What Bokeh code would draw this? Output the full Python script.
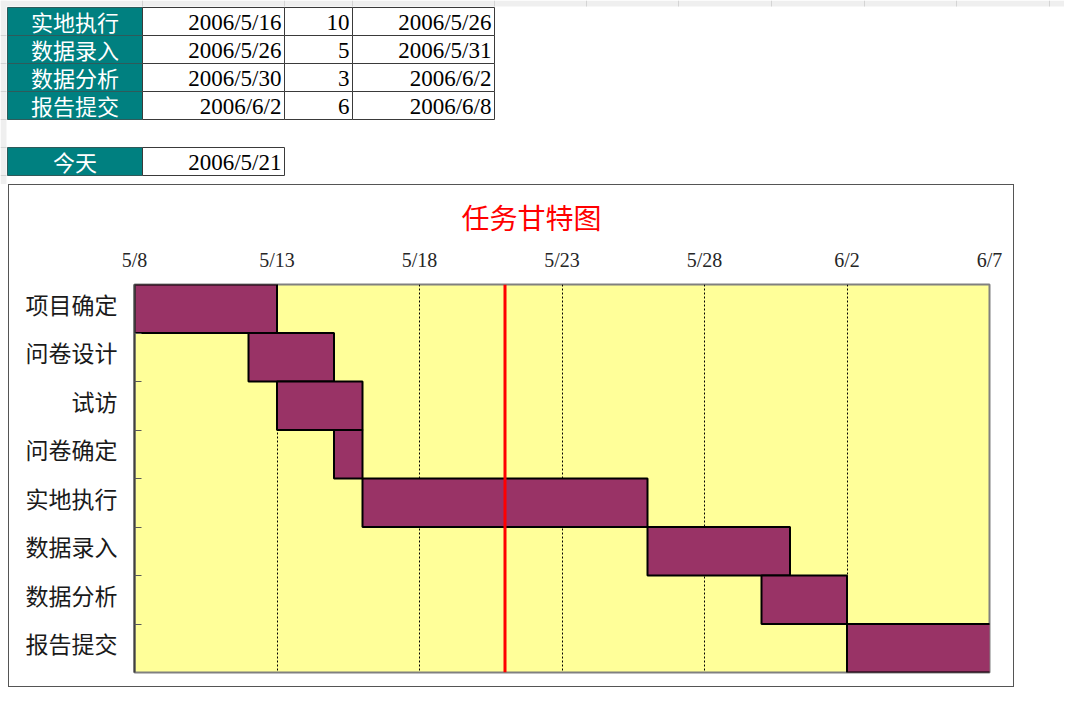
import pandas as pd
from bokeh.plotting import figure
from bokeh.models import Range1d, FixedTicker, Span
from bokeh.embed import file_html
from bokeh.resources import INLINE
from bokeh.core.properties import value

# ---------------- data ----------------
tasks = ["项目确定", "问卷设计", "试访", "问卷确定", "实地执行", "数据录入", "数据分析", "报告提交"]
starts = ["2006-05-08", "2006-05-12", "2006-05-13", "2006-05-15",
          "2006-05-16", "2006-05-26", "2006-05-30", "2006-06-02"]
durations = [5, 3, 3, 1, 10, 5, 3, 6]
today = "2006-05-21"
today_label = "今天"
axis_start = "2006-05-08"
axis_end = "2006-06-07"
tick_step_days = 5
visible_table_rows = [4, 5, 6, 7]
chart_title = "任务甘特图"

# ---------------- derived ----------------
start_ts = [pd.Timestamp(s) for s in starts]
end_ts = [s + pd.Timedelta(days=d) for s, d in zip(start_ts, durations)]
t0 = pd.Timestamp(axis_start)
t1 = pd.Timestamp(axis_end)
span_days = (t1 - t0).days
left = [(s - t0).days for s in start_ts]
right = [(e - t0).days for e in end_ts]
today_off = (pd.Timestamp(today) - t0).days


def fmt_full(ts):
    return f"{ts.year}/{ts.month}/{ts.day}"


def fmt_md(ts):
    return f"{ts.month}/{ts.day}"


CJK = "Noto Sans CJK SC"
SERIF = "Liberation Serif"

# ---------------- spreadsheet table ----------------
T = figure(width=1064, height=184, x_range=Range1d(0, 1064), y_range=Range1d(184, 0),
           toolbar_location=None, output_backend="svg", min_border=0)
T.axis.visible = False
T.grid.visible = False
T.outline_line_color = None
T.background_fill_color = "white"
T.border_fill_color = "white"

# sheet header strips (column header on top, row header on left)
T.quad(left=[0, 0], right=[1064, 6], top=[0, 0], bottom=[6, 184],
       fill_color="#efefef", line_color=None)
hdr_cols = [142, 284, 352, 494, 586, 678, 771, 864, 956, 1049]
T.segment(x0=hdr_cols, y0=[0] * len(hdr_cols), x1=hdr_cols, y1=[6] * len(hdr_cols),
          line_color="#d4d4d4", line_width=1)
hdr_rows = [35, 63, 91, 119, 147, 175]
T.segment(x0=[0] * len(hdr_rows), y0=hdr_rows, x1=[6] * len(hdr_rows), y1=hdr_rows,
          line_color="#d4d4d4", line_width=1)

col_x = [7, 142, 284, 352, 494]
row_h = 28
row_y0 = 7
today_y0 = 147

ys = [row_y0 + k * row_h for k in range(len(visible_table_rows))]
names = [tasks[i] for i in visible_table_rows]
c_start = [fmt_full(start_ts[i]) for i in visible_table_rows]
c_dur = [str(durations[i]) for i in visible_table_rows]
c_end = [fmt_full(end_ts[i]) for i in visible_table_rows]

# label cells
T.quad(left=[col_x[0]] * (len(ys) + 1), right=[col_x[1]] * (len(ys) + 1),
       top=ys + [today_y0], bottom=[y + row_h for y in ys] + [today_y0 + row_h],
       fill_color="#008080", line_color="#2f5a5a", line_width=1)
# value cells
for ci in range(1, 4):
    T.quad(left=[col_x[ci]] * len(ys), right=[col_x[ci + 1]] * len(ys),
           top=ys, bottom=[y + row_h for y in ys],
           fill_color="white", line_color="#3a3a3a", line_width=1)
T.quad(left=[col_x[1]], right=[col_x[2]], top=[today_y0], bottom=[today_y0 + row_h],
       fill_color="white", line_color="#3a3a3a", line_width=1)

mid = [y + row_h / 2 + 1 for y in ys]
mid_cjk = [y + row_h / 2 - 1 for y in ys]
T.text(x=[(col_x[0] + col_x[1]) / 2] * len(ys), y=mid_cjk, text=names,
       text_font=value(CJK), text_font_size="22px", text_color="white",
       text_align="center", text_baseline="middle")
for ci, col in zip(range(1, 4), [c_start, c_dur, c_end]):
    T.text(x=[col_x[ci + 1] - 3] * len(ys), y=mid, text=col,
           text_font=value(SERIF), text_font_size="23px", text_color="black",
           text_align="right", text_baseline="middle")
T.text(x=[(col_x[0] + col_x[1]) / 2], y=[today_y0 + row_h / 2 - 1], text=[today_label],
       text_font=value(CJK), text_font_size="22px", text_color="white",
       text_align="center", text_baseline="middle")
T.text(x=[col_x[2] - 3], y=[today_y0 + row_h / 2 + 1], text=[fmt_full(pd.Timestamp(today))],
       text_font=value(SERIF), text_font_size="23px", text_color="black",
       text_align="right", text_baseline="middle")

# ---------------- gantt chart ----------------
n = len(tasks)
p = figure(width=1004, height=501, x_range=Range1d(0, span_days), y_range=Range1d(n, 0),
           toolbar_location=None, output_backend="svg", x_axis_location="above",
           min_border_left=125, min_border_right=24, min_border_top=99, min_border_bottom=14)
p.margin = (1, 0, 0, 9)
p.styles = {"outline": "1px solid #555555", "outline-offset": "0px"}
p.background_fill_color = "#FFFF99"
p.border_fill_color = "white"
p.outline_line_color = "#808080"
p.outline_line_width = 2

p.title.text = chart_title
p.title.text_color = "#FF0000"
p.title.text_font = CJK
p.title.text_font_size = "28px"
p.title.text_font_style = "normal"
p.title.align = "left"
p.title.offset = 327
p.title.standoff = 17

xt = list(range(0, span_days + 1, tick_step_days))
xticker = FixedTicker(ticks=xt)
p.xaxis.ticker = xticker
p.xaxis.major_label_overrides = {t: fmt_md(t0 + pd.Timedelta(days=t)) for t in xt}
p.xaxis.major_tick_in = 0
p.xaxis.major_tick_out = 0
p.xaxis.minor_tick_line_color = None
p.xaxis.axis_line_color = None
p.xaxis.axis_label_standoff = 0
p.xaxis.major_label_text_font = SERIF
p.xaxis.major_label_text_font_size = "20px"
p.xaxis.major_label_text_color = "#262626"
p.xaxis.major_label_standoff = 14

label_pos = [i + 0.4 for i in range(n)]  # CJK glyphs sit low at "middle" baseline
p.yaxis.ticker = FixedTicker(ticks=label_pos, minor_ticks=list(range(1, n)))
p.yaxis.major_label_overrides = {pos: tasks[i] for i, pos in enumerate(label_pos)}
p.yaxis.major_tick_in = 0
p.yaxis.major_tick_out = 0
p.yaxis.minor_tick_in = 7
p.yaxis.minor_tick_out = 0
p.yaxis.minor_tick_line_color = "#595959"
p.yaxis.minor_tick_line_width = 1
p.yaxis.axis_line_color = "#404040"
p.yaxis.axis_line_width = 2
p.yaxis.major_label_text_font = CJK
p.yaxis.major_label_text_font_size = "23px"
p.yaxis.major_label_text_color = "#1a1a1a"
p.yaxis.major_label_standoff = 17

p.xgrid.ticker = xticker
p.xgrid.grid_line_color = "black"
p.xgrid.grid_line_dash = "2 2"
p.xgrid.grid_line_width = 1
p.ygrid.visible = False

p.quad(left=left, right=right, top=list(range(n)), bottom=[i + 1 for i in range(n)],
       fill_color="#993366", line_color="black", line_width=2)

p.add_layout(Span(location=today_off, dimension="height", line_color="#FF0000", line_width=3))

open("out.html", "w").write(file_html([T, p], INLINE))
